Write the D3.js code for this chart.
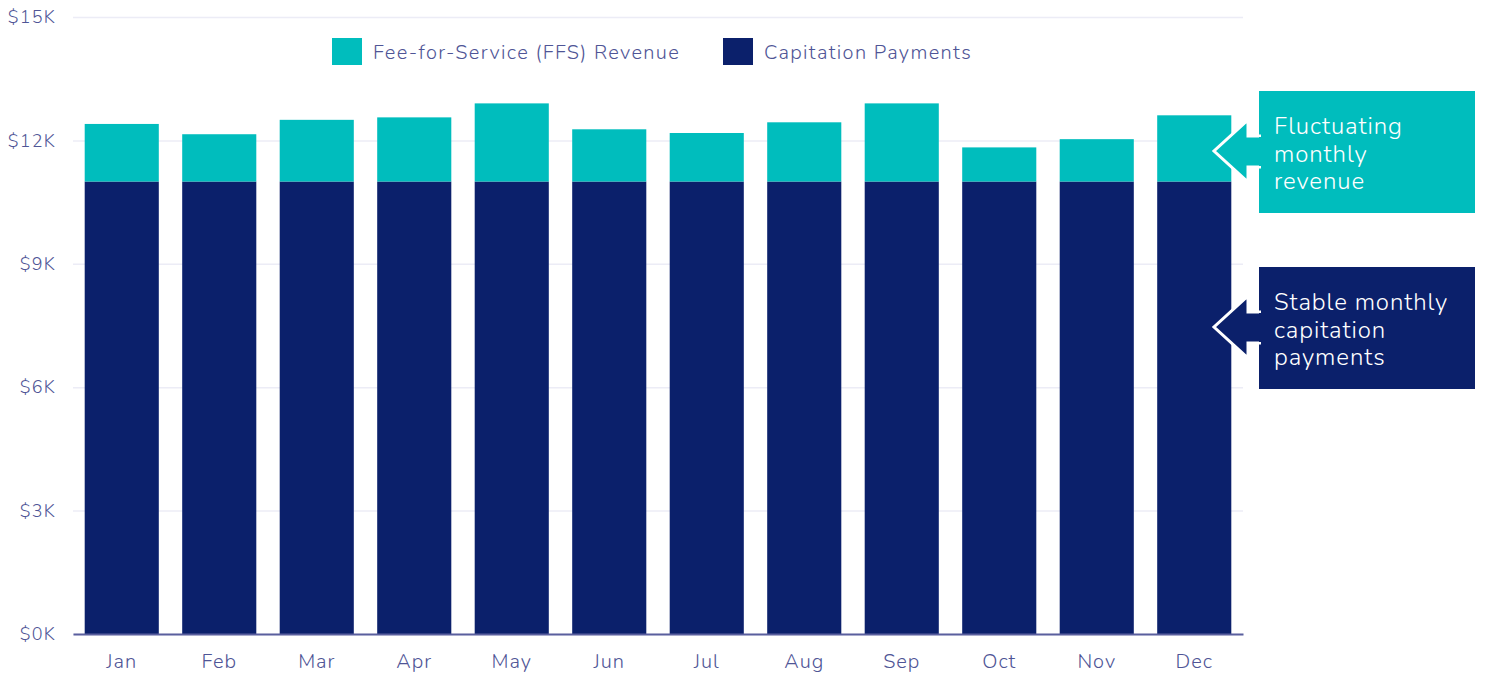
<!DOCTYPE html>
<html>
<head>
<meta charset="utf-8">
<script src="https://cdn.jsdelivr.net/npm/d3@7"></script>
<style>
  body { margin: 0; background: #fff; }
  text { font-family: Nunito, "Open Sans", Lato, sans-serif; }
</style>
</head>
<body>
<svg id="chart"></svg>
<script>
(() => {

  const months = ['Jan', 'Feb', 'Mar', 'Apr', 'May', 'Jun', 'Jul', 'Aug', 'Sep', 'Oct', 'Nov', 'Dec'];
  const capitation = [11000, 11000, 11000, 11000, 11000, 11000, 11000, 11000, 11000, 11000, 11000, 11000];
  const ffsRevenue = [1400, 1150, 1500, 1560, 1900, 1270, 1180, 1440, 1900, 830, 1030, 1610];
  const yTicks = [0, 3000, 6000, 9000, 12000, 15000];
  const seriesNames = ['Fee-for-Service (FFS) Revenue', 'Capitation Payments'];
  const notes = [
    ['Fluctuating', 'monthly', 'revenue'],
    ['Stable monthly', 'capitation', 'payments']
  ];

  const TEAL = '#00bdbd';
  const NAVY = '#0b206b';
  const INK = '#4f5596';

  const svgWidth = 1485;
  const svgHeight = 674;
  const margin = { top: 17, left: 73, right: 242, bottom: 40 };
  const width = svgWidth - (margin.left + margin.right);
  const height = svgHeight - (margin.top + margin.bottom);

  const svg = d3.select('#chart')
    .attr('width', svgWidth)
    .attr('height', svgHeight);

  const g = svg.append('g')
    .attr('transform', `translate(${margin.left}, ${margin.top})`);

  const xScale = d3.scaleBand()
    .domain(months)
    .range([0, width])
    .paddingInner(0.24)
    .paddingOuter(0.12);

  const yScale = d3.scaleLinear()
    .domain([0, 15000])
    .range([height, 0]);

  // gridlines + y labels
  const yAxis = g.append('g')
    .call(d3.axisLeft(yScale)
      .tickValues(yTicks)
      .tickSize(-width)
      .tickPadding(17)
      .tickFormat(d => `$${d / 1000}K`));
  yAxis.select('.domain').remove();
  yAxis.selectAll('.tick line')
    .attr('stroke', '#ececf6')
    .attr('stroke-width', 1.5);
  yAxis.selectAll('.tick text')
    .attr('fill', INK)
    .attr('font-size', 18)
    .attr('font-weight', 300)
    .attr('letter-spacing', 1.2);

  // stacked bars
  const rows = months.map((m, i) => ({ month: m, cap: capitation[i], ffs: ffsRevenue[i] }));
  const stack = d3.stack().keys(['cap', 'ffs'])(rows);
  const colors = { cap: NAVY, ffs: TEAL };

  g.selectAll('.layer')
    .data(stack)
    .enter()
    .append('g')
    .attr('fill', d => colors[d.key])
    .selectAll('rect')
    .data(d => d)
    .enter()
    .append('rect')
    .attr('x', d => xScale(d.data.month))
    .attr('y', d => yScale(d[1]))
    .attr('width', xScale.bandwidth())
    .attr('height', d => yScale(d[0]) - yScale(d[1]));

  // x axis
  const xAxis = g.append('g')
    .attr('transform', `translate(0, ${height})`)
    .call(d3.axisBottom(xScale).tickSize(0).tickPadding(20));
  xAxis.select('.domain')
    .attr('stroke', '#5a5f9e')
    .attr('stroke-width', 2);
  xAxis.selectAll('.tick text')
    .attr('fill', INK)
    .attr('font-size', 20)
    .attr('font-weight', 300)
    .attr('letter-spacing', 1);

  // legend
  const legend = svg.append('g');
  const legendItems = [
    { name: seriesNames[0], color: TEAL, x: 332 },
    { name: seriesNames[1], color: NAVY, x: 723 }
  ];
  legendItems.forEach(item => {
    legend.append('rect')
      .attr('x', item.x).attr('y', 38)
      .attr('width', 30).attr('height', 27)
      .attr('fill', item.color);
    legend.append('text')
      .attr('x', item.x + 41).attr('y', 59)
      .attr('fill', INK)
      .attr('font-size', 20)
      .attr('font-weight', 300)
      .attr('letter-spacing', 1.35)
      .text(item.name);
  });

  // callouts
  const boxX = 1259, boxW = 216, boxH = 122;
  const callouts = [
    { top: 91, color: TEAL, lines: notes[0] },
    { top: 267, color: NAVY, lines: notes[1] }
  ];
  callouts.forEach(c => {
    const mid = c.top + 60;
    const arrow = [
      [boxX + 2, mid - 15], [1248, mid - 15], [1248, mid - 31],
      [1214, mid], [1248, mid + 31], [1248, mid + 16], [boxX + 2, mid + 16]
    ];
    svg.append('rect')
      .attr('x', boxX).attr('y', c.top)
      .attr('width', boxW).attr('height', boxH)
      .attr('fill', c.color);
    svg.append('path')
      .attr('d', d3.line()(arrow))
      .attr('fill', c.color)
      .attr('stroke', '#fff')
      .attr('stroke-width', 3)
      .attr('stroke-linejoin', 'miter');
    // cover the join with the box
    svg.append('rect')
      .attr('x', boxX).attr('y', mid - 14)
      .attr('width', 4).attr('height', 29)
      .attr('fill', c.color);
    svg.append('text')
      .attr('fill', '#fff')
      .attr('font-size', 24)
      .attr('font-weight', 300)
      .attr('letter-spacing', 0.9)
      .selectAll('tspan')
      .data(c.lines)
      .enter()
      .append('tspan')
      .attr('x', 1274)
      .attr('y', (d, i) => c.top + 43 + i * 27.5)
      .text(d => d);
  });

})();
</script>
</body>
</html>
